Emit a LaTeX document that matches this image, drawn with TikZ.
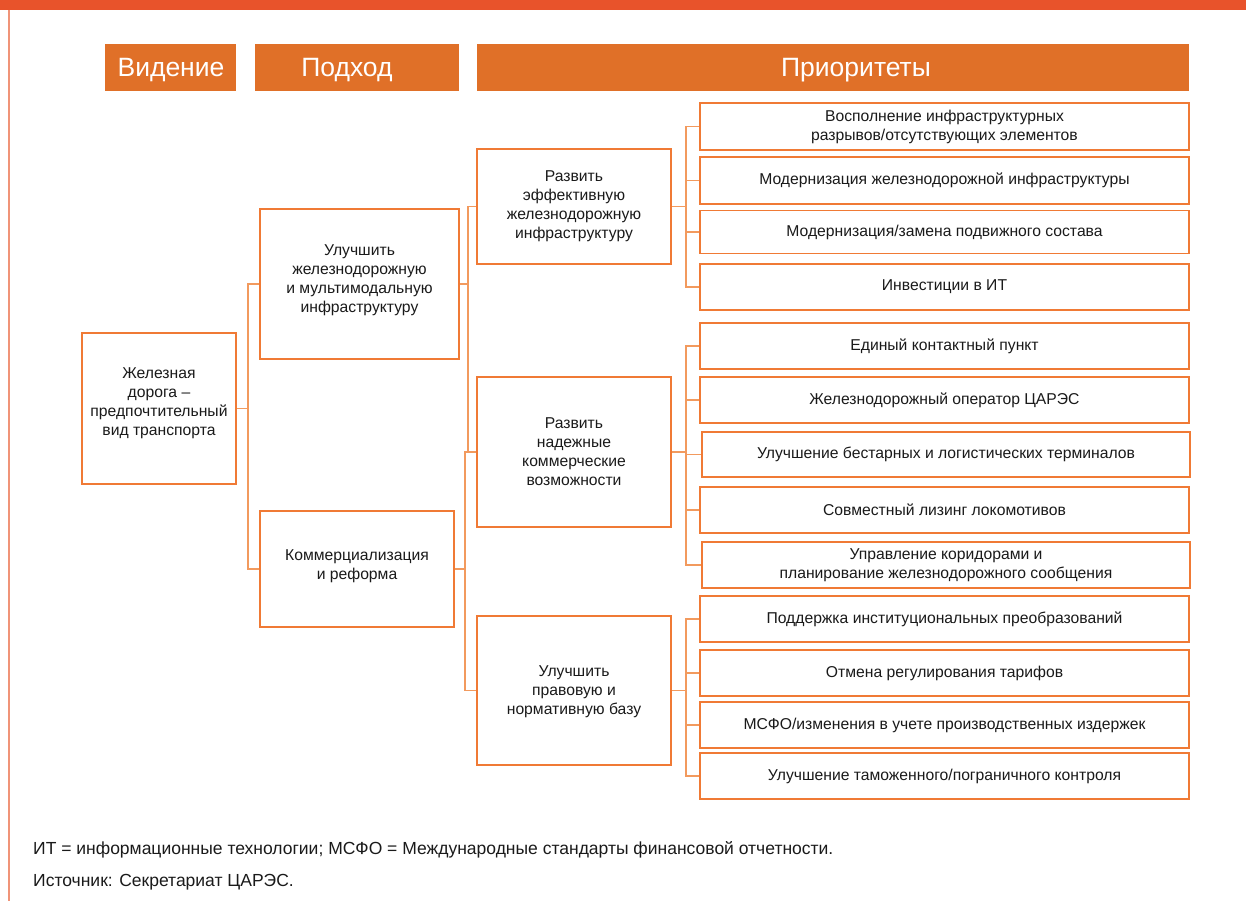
\documentclass[tikz,border=0pt]{standalone}
\usepackage{fontspec}
\setmainfont{Liberation Sans}
\definecolor{barred}{HTML}{E8532B}
\definecolor{hdr}{HTML}{E07028}
\definecolor{boxor}{HTML}{F07A35}
\definecolor{connor}{HTML}{F29A5E}
\definecolor{edge}{HTML}{F09478}
\definecolor{txt}{HTML}{1A1A1A}
\tikzset{
  hbox/.style={fill=hdr, draw=none, inner sep=0pt},
  htext/.style={inner sep=0pt, text=white, font=\fontsize{26.5}{30}\selectfont},
  box/.style={draw=boxor, line width=1.5pt, fill=white, inner sep=2pt, align=center, text=txt, font=\fontsize{15.7}{19}\selectfont},
  conn/.style={draw=connor, line width=1.3pt},
  note/.style={anchor=west, inner sep=0pt, text=txt, font=\fontsize{17.5}{20}\selectfont}
}
\begin{document}
\begin{tikzpicture}[x=1pt,y=-1pt]
\useasboundingbox (0,0) rectangle (1246,901);
\fill[barred] (0,0) rectangle (1246,10);
\draw[edge, line width=1.5pt] (9,10) -- (9,901);
% headers
\node[hbox, minimum width=131, minimum height=47] (h1) at (170.5,67.5) {};
\node[hbox, minimum width=204, minimum height=47] (h2) at (357,67.5) {};
\node[hbox, minimum width=712, minimum height=47] (h3) at (833,67.5) {};
\node[htext] (t1) at ([shift={(0.5,3)}]h1.center) {Видение};
\node[htext] (t2) at ([shift={(-10,3)}]h2.center) {Подход};
\node[htext] (t3) at ([shift={(23,3)}]h3.center) {Приоритеты};
% level 1
\node[box, minimum width=154, minimum height=151] (v) at (159,408.5) {Железная\\дорога –\\предпочтительный\\вид транспорта\\[-6pt]};
% level 2
\node[box, minimum width=199, minimum height=150] (a1) at (359.5,284) {Улучшить\\железнодорожную\\и мультимодальную\\инфраструктуру\\[-8pt]};
\node[box, minimum width=194, minimum height=116] (a2) at (357,569) {\\[-13pt]Коммерциализация\\и реформа};
% level 3
\node[box, minimum width=194, minimum height=115] (p1) at (574,206.5) {Развить\\эффективную\\железнодорожную\\инфраструктуру};
\node[box, minimum width=194, minimum height=150] (p2) at (574,452) {Развить\\надежные\\коммерческие\\возможности};
\node[box, minimum width=194, minimum height=149] (p3) at (574,690.5) {\\[-5pt]Улучшить\\правовую и\\нормативную базу};
% leaves
\node[box, minimum width=489, minimum height=47] (q1) at (944.5,126.5) {Восполнение инфраструктурных\\разрывов/отсутствующих элементов};
\node[box, minimum width=489, minimum height=47] (q2) at (944.5,180.5) {Модернизация железнодорожной инфраструктуры};
\node[box, minimum width=489, minimum height=43] (q3) at (944.5,232) {Модернизация/замена подвижного состава};
\node[box, minimum width=489, minimum height=46] (q4) at (944.5,287) {Инвестиции в ИТ};
\node[box, minimum width=489, minimum height=46] (q5) at (944.5,346) {Единый контактный пункт};
\node[box, minimum width=489, minimum height=46] (q6) at (944.5,400) {Железнодорожный оператор ЦАРЭС};
\node[box, minimum width=488, minimum height=45] (q7) at (946,454.5) {Улучшение бестарных и логистических терминалов};
\node[box, minimum width=489, minimum height=46] (q8) at (944.5,510) {Совместный лизинг локомотивов};
\node[box, minimum width=488, minimum height=46] (q9) at (946,565) {Управление коридорами и\\планирование железнодорожного сообщения};
\node[box, minimum width=489, minimum height=46] (q10) at (944.5,619) {Поддержка институциональных преобразований};
\node[box, minimum width=489, minimum height=46] (q11) at (944.5,673) {Отмена регулирования тарифов};
\node[box, minimum width=489, minimum height=46] (q12) at (944.5,725) {МСФО/изменения в учете производственных издержек};
\node[box, minimum width=489, minimum height=46] (q13) at (944.5,776) {Улучшение таможенного/пограничного контроля};
% buses
\coordinate (b1) at (248,0);
\coordinate (b2) at (468,0);
\coordinate (b3) at (465,0);
\coordinate (b4) at (686,0);
% connectors
\draw[conn] (v.east) -- (v.east -| b1) |- (a1.west);
\draw[conn] (v.east -| b1) |- (a2.west);
\draw[conn] (a1.east) -- (a1.east -| b2) |- (p1.west);
\draw[conn] (a1.east -| b2) |- (p2.west);
\draw[conn] (a2.east) -- (a2.east -| b3) |- (p2.west);
\draw[conn] (a2.east -| b3) |- (p3.west);
\foreach \c in {q1,q2,q3,q4}{\draw[conn] (p1.east) -- (p1.east -| b4) |- (\c.west);}
\foreach \c in {q5,q6,q7,q8,q9}{\draw[conn] (p2.east) -- (p2.east -| b4) |- (\c.west);}
\foreach \c in {q10,q11,q12,q13}{\draw[conn] (p3.east) -- (p3.east -| b4) |- (\c.west);}
% notes
\node[note] (n1) at (33,850) {ИТ = информационные технологии; МСФО = Международные стандарты финансовой отчетности.};
\node[note] (n2) at (33,882) {Источник: Секретариат ЦАРЭС.};
\end{tikzpicture}
\end{document}
